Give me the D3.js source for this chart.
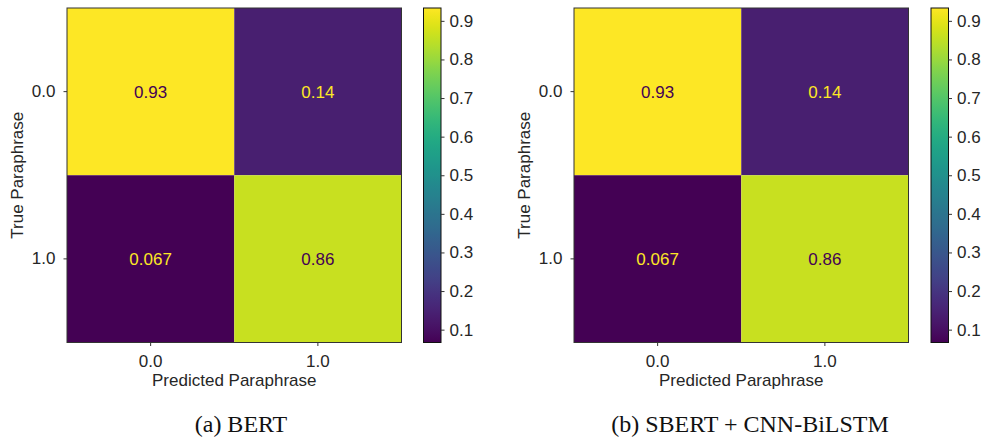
<!DOCTYPE html>
<html><head><meta charset="utf-8">
<script src="https://cdn.jsdelivr.net/npm/d3@7"></script>
<style>body{margin:0;background:#fff}svg{display:block}</style>
</head><body>
<svg id="c" width="981" height="438"></svg>
<script>
const categories = ["0.0", "1.0"];
const bertValues = [[0.9333, 0.14], [0.0667, 0.86]];
const sbertValues = [[0.9333, 0.14], [0.0667, 0.86]];
const colorbarTicks = [0.1, 0.2, 0.3, 0.4, 0.5, 0.6, 0.7, 0.8, 0.9];
const captions = ["(a) BERT", "(b) SBERT + CNN-BiLSTM"];
const xTitle = "Predicted Paraphrase";
const yTitle = "True Paraphrase";

const svg = d3.select("#c");
const font = "'Liberation Sans', Arial, Helvetica, sans-serif";
const fs = 17;
const txtColor = "#262626";

const panels = [
  {vals: bertValues, x0: 67, cb: 423.5, cap: captions[0]},
  {vals: sbertValues, x0: 574, cb: 931, cap: captions[1]}
];
const plotTop = 8, size = 334.5, cbW = 17.5;

const defs = svg.append("defs");
const grad = defs.append("linearGradient").attr("id", "vir")
  .attr("x1", 0).attr("y1", 1).attr("x2", 0).attr("y2", 0);
d3.range(0, 1.0001, 0.02).forEach(t => {
  grad.append("stop").attr("offset", t).attr("stop-color", d3.interpolateViridis(t));
});

panels.forEach((p, pi) => {
  const all = p.vals.flat();
  const vmin = d3.min(all), vmax = d3.max(all);
  const color = d3.scaleSequential(d3.interpolateViridis).domain([vmin, vmax]);
  const x = d3.scaleBand().domain(categories).range([p.x0, p.x0 + size]);
  const y = d3.scaleBand().domain(categories).range([plotTop, plotTop + size]);
  const g = svg.append("g");
  const cells = [];
  p.vals.forEach((row, i) => row.forEach((v, j) => cells.push({r: categories[i], c: categories[j], v})));
  g.selectAll("rect.cell").data(cells).enter().append("rect")
    .attr("x", d => x(d.c)).attr("y", d => y(d.r))
    .attr("width", x.bandwidth()).attr("height", y.bandwidth())
    .attr("fill", d => color(d.v));
  g.selectAll("text.ann").data(cells).enter().append("text")
    .attr("x", d => x(d.c) + x.bandwidth() / 2)
    .attr("y", d => y(d.r) + y.bandwidth() / 2)
    .attr("dy", "0.35em").attr("text-anchor", "middle")
    .style("font-family", font).style("font-size", fs + "px")
    .attr("fill", d => (d.v - vmin) / (vmax - vmin) > 0.5 ? "#440154" : "#fde725")
    .text(d => d3.format(".2g")(d.v));
  g.append("rect").attr("x", p.x0).attr("y", plotTop).attr("width", size).attr("height", size)
    .attr("fill", "none").attr("stroke", "#333").attr("stroke-width", 1);

  const xa = g.append("g").attr("transform", `translate(0,${plotTop + size})`)
    .call(d3.axisBottom(x).tickSize(3.5).tickPadding(9));
  const ya = g.append("g").attr("transform", `translate(${p.x0},0)`)
    .call(d3.axisLeft(y).tickSize(3.5).tickPadding(8));
  [xa, ya].forEach(a => {
    a.select(".domain").remove();
    a.selectAll("line").attr("stroke", "#333");
    a.selectAll("text").style("font-family", font).style("font-size", fs + "px").attr("fill", txtColor);
  });
  g.append("text").attr("x", p.x0 + size / 2).attr("y", 386)
    .attr("text-anchor", "middle").style("font-family", font).style("font-size", fs + "px")
    .attr("fill", txtColor).text(xTitle);
  g.append("text").attr("transform", `translate(${p.x0 - 44},${plotTop + size / 2}) rotate(-90)`)
    .attr("text-anchor", "middle").style("font-family", font).style("font-size", fs + "px")
    .attr("fill", txtColor).text(yTitle);

  // colorbar
  const cy = d3.scaleLinear().domain([vmin, vmax]).range([plotTop + size, plotTop]);
  g.append("rect").attr("x", p.cb).attr("y", plotTop).attr("width", cbW).attr("height", size)
    .attr("fill", "url(#vir)").attr("stroke", "#111").attr("stroke-width", 1);
  const ca = g.append("g").attr("transform", `translate(${p.cb + cbW},0)`)
    .call(d3.axisRight(cy).tickValues(colorbarTicks).tickFormat(d3.format(".1f")).tickSize(3.5).tickPadding(5));
  ca.select(".domain").remove();
  ca.selectAll("line").attr("stroke", "#333");
  ca.selectAll("text").style("font-family", font).style("font-size", fs + "px").attr("fill", txtColor);

  // caption
  g.append("text").attr("x", pi === 0 ? 241 : 750).attr("y", 432)
    .attr("text-anchor", "middle").style("font-family", "'Liberation Serif', 'Times New Roman', serif")
    .style("font-size", "24px").attr("fill", "#111").text(p.cap);
});
</script>
</body></html>
